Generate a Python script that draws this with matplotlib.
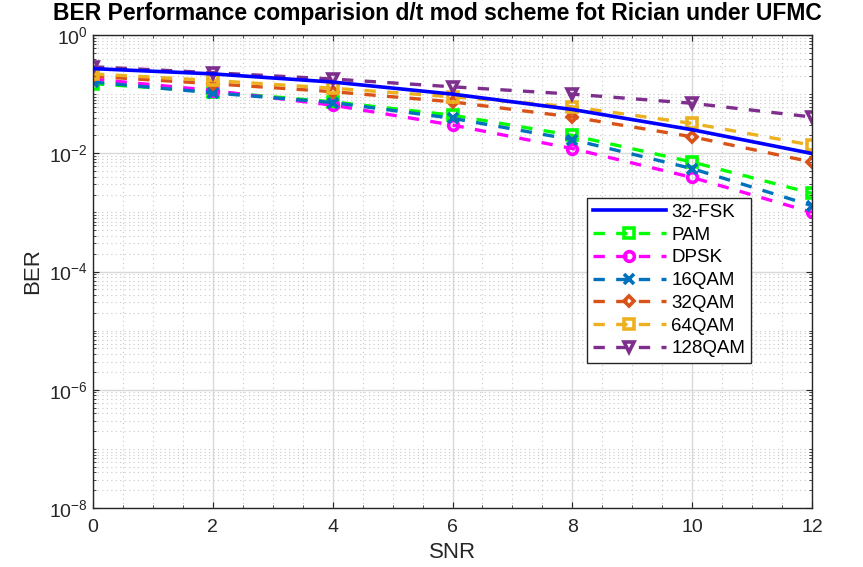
import matplotlib
matplotlib.use("Agg")
import matplotlib.pyplot as plt
from matplotlib.ticker import LogLocator, MultipleLocator, FixedLocator, NullFormatter

plt.rcParams['font.family'] = ['Liberation Sans', 'DejaVu Sans']
plt.rcParams['mathtext.fontset'] = 'custom'
plt.rcParams['mathtext.rm'] = 'Liberation Sans'
plt.rcParams['mathtext.it'] = 'Liberation Sans'

snr = [0, 2, 4, 6, 8, 10, 12]
ber_32fsk = [0.27, 0.22, 0.16, 0.10, 0.055, 0.025, 0.0099]
ber_pam = [0.15, 0.11, 0.074, 0.044, 0.020, 0.0071, 0.0021]
ber_dpsk = [0.18, 0.115, 0.065, 0.030, 0.012, 0.0039, 0.0010]
ber_16qam = [0.16, 0.105, 0.072, 0.039, 0.017, 0.0055, 0.0013]
ber_32qam = [0.20, 0.15, 0.11, 0.074, 0.041, 0.019, 0.0071]
ber_64qam = [0.22, 0.17, 0.126, 0.09, 0.061, 0.032, 0.0137]
ber_128qam = [0.29, 0.23, 0.18, 0.133, 0.10, 0.070, 0.041]
labels = ['32-FSK', 'PAM', 'DPSK', '16QAM', '32QAM', '64QAM', '128QAM']
xticks = [0, 2, 4, 6, 8, 10, 12]
yticks = [1e-8, 1e-6, 1e-4, 1e-2, 1e0]
ytick_labels = ['$10^{-8}$', '$10^{-6}$', '$10^{-4}$', '$10^{-2}$', '$10^{0}$']
title = 'BER Performance comparision d/t mod scheme fot Rician under UFMC'

fig = plt.figure(figsize=(8.63, 5.67), dpi=100)
ax = fig.add_axes([93/863, 1-508/567, (812-93)/863, (508-35)/567])

dash = (3.4, 3.4)
ax.semilogy(snr, ber_32fsk, '-', color=(0, 0, 1), lw=2.6, label=labels[0], zorder=5)
series = [
    (ber_pam, 's', (0, 1, 0)),
    (ber_dpsk, 'o', (1, 0, 1)),
    (ber_16qam, 'x', (0, 0.447, 0.741)),
    (ber_32qam, 'D', (0.85, 0.325, 0.098)),
    (ber_64qam, 's', (0.929, 0.694, 0.125)),
    (ber_128qam, 'v', (0.494, 0.184, 0.556)),
]
for (vals, mk, col), lab in zip(series, labels[1:]):
    ms = 5.5 if mk == 'D' else 7
    ax.semilogy(snr, vals, linestyle=(0, dash), marker=mk, color=col, lw=2.4,
                ms=ms, mfc='none', mew=2.6, label=lab)

ax.set_xlim(0, 12)
ax.set_ylim(1e-8, 1e0)
ax.xaxis.set_major_locator(FixedLocator(xticks))
ax.xaxis.set_minor_locator(MultipleLocator(0.5))
ax.yaxis.set_major_locator(FixedLocator(yticks))
ax.set_yticklabels(ytick_labels)
ax.yaxis.set_minor_locator(LogLocator(base=10, subs=[1, 2, 3, 4, 5, 6, 7, 8, 9], numticks=20))
ax.yaxis.set_minor_formatter(NullFormatter())

ax.grid(True, which='major', color='#d9d9d9', lw=1.0, ls='-')
ax.grid(True, which='minor', color='#c8c8c8', lw=0.8, ls=(0, (1, 3)))
ax.set_axisbelow(True)
ax.tick_params(which='both', direction='in', top=True, right=True, colors='#262626',
               labelsize=14, length=4)
ax.tick_params(which='minor', length=2)
ax.tick_params(axis='x', pad=8)
for s in ax.spines.values():
    s.set_color('#262626')
    s.set_linewidth(1.0)

ax.set_xlabel('SNR', fontsize=16, color='#262626', labelpad=4)
ax.set_ylabel('BER', fontsize=16, color='#262626', labelpad=4)
fig.text(437/863, 1-20/567, title, fontsize=16.5, fontweight='bold',
         ha='center', va='baseline')

leg = ax.legend(loc='upper left', bbox_to_anchor=(0.687, 0.655), fontsize=13.5,
                frameon=True, fancybox=False, edgecolor='#262626', framealpha=1,
                handlelength=3.9, borderpad=0.3, labelspacing=0.3, handletextpad=0.3,
                borderaxespad=0)
leg.get_frame().set_linewidth(1.0)

fig.savefig('out.png', dpi=100)
